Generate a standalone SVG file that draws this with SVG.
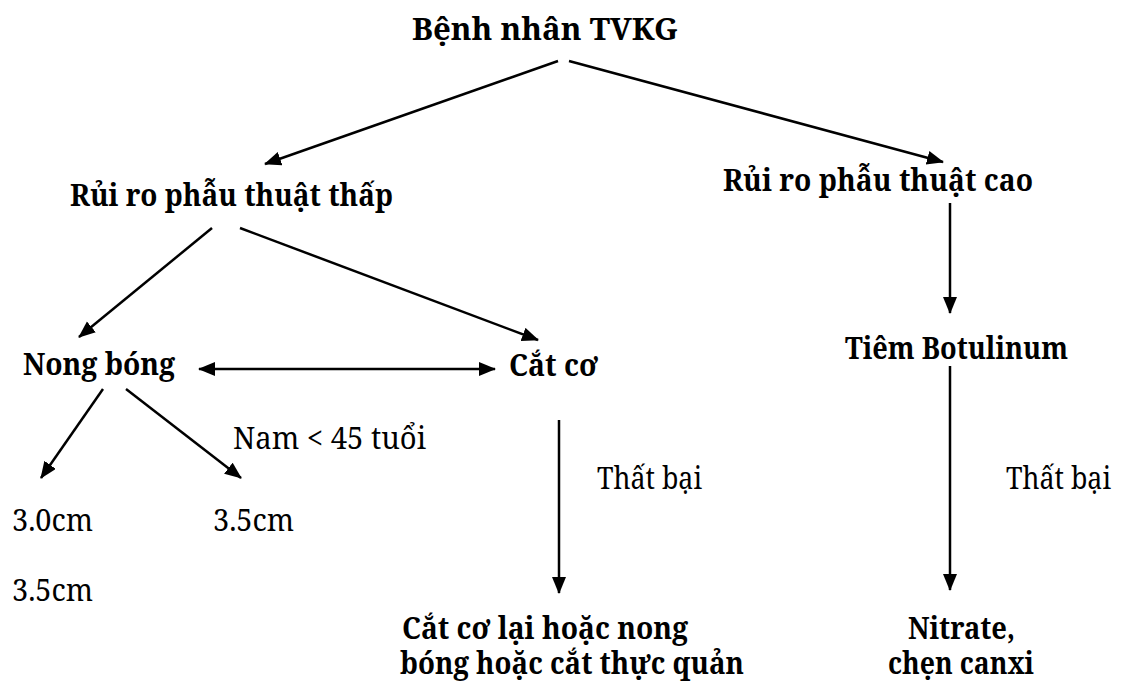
<svg xmlns="http://www.w3.org/2000/svg" width="1124" height="684" viewBox="0 0 1124 684">
<style>
text{font-family:"Noto Serif","DejaVu Serif","Liberation Serif",serif;font-size:31px;fill:#000}
.b{font-weight:bold}
.r{font-size:30px}
.c line{stroke:#000;stroke-width:2.5}
</style>
<defs>
<marker id="ah" markerUnits="userSpaceOnUse" markerWidth="20" markerHeight="16" refX="16" refY="7" orient="auto-start-reverse">
<path d="M0,0 L17,7 L0,14 z" fill="#000"/>
</marker>
</defs>
<rect width="1124" height="684" fill="#fff"/>
<g class="c" id="connectors">
<line x1="558" y1="61" x2="265" y2="164" marker-end="url(#ah)"/>
<line x1="569" y1="61" x2="943" y2="162" marker-end="url(#ah)"/>
<line x1="212" y1="228" x2="79" y2="337" marker-end="url(#ah)"/>
<line x1="240" y1="228" x2="538" y2="340" marker-end="url(#ah)"/>
<line x1="199" y1="369" x2="495" y2="369" marker-start="url(#ah)" marker-end="url(#ah)"/>
<line x1="950" y1="203" x2="950" y2="313" marker-end="url(#ah)"/>
<line x1="950" y1="366" x2="950" y2="590" marker-end="url(#ah)"/>
<line x1="559" y1="420" x2="559" y2="593" marker-end="url(#ah)"/>
<line x1="103" y1="389" x2="41" y2="478" marker-end="url(#ah)"/>
<line x1="126" y1="389" x2="241" y2="478" marker-end="url(#ah)"/>
</g>
<g id="n_root"><text class="b" x="412" y="40" textLength="266" lengthAdjust="spacingAndGlyphs">Bệnh nhân TVKG</text></g>
<g id="n_low"><text class="b" x="70" y="206" textLength="323" lengthAdjust="spacingAndGlyphs">Rủi ro phẫu thuật thấp</text></g>
<g id="n_high"><text class="b" x="723" y="191" textLength="310" lengthAdjust="spacingAndGlyphs">Rủi ro phẫu thuật cao</text></g>
<g id="n_nong"><text class="b" x="23" y="375" textLength="152" lengthAdjust="spacingAndGlyphs">Nong bóng</text></g>
<g id="n_catco"><text class="b" x="509" y="376" textLength="89" lengthAdjust="spacingAndGlyphs">Cắt cơ</text></g>
<g id="n_botu"><text class="b" x="845" y="359" textLength="223" lengthAdjust="spacingAndGlyphs">Tiêm Botulinum</text></g>
<g id="l_nam"><text class="r" x="233" y="449" textLength="193" lengthAdjust="spacingAndGlyphs">Nam &lt; 45 tuổi</text></g>
<g id="n_30"><text class="r" x="12" y="531" textLength="81" lengthAdjust="spacingAndGlyphs">3.0cm</text></g>
<g id="n_35a"><text class="r" x="213" y="531" textLength="81" lengthAdjust="spacingAndGlyphs">3.5cm</text></g>
<g id="n_35b"><text class="r" x="12" y="601" textLength="81" lengthAdjust="spacingAndGlyphs">3.5cm</text></g>
<g id="l_fail1"><text class="r" x="597" y="489" textLength="105" lengthAdjust="spacingAndGlyphs">Thất bại</text></g>
<g id="l_fail2"><text class="r" x="1006" y="489" textLength="105" lengthAdjust="spacingAndGlyphs">Thất bại</text></g>
<g id="n_redo"><text class="b"><tspan x="402" y="639" textLength="286" lengthAdjust="spacingAndGlyphs">Cắt cơ lại hoặc nong</tspan><tspan x="400" y="674" textLength="344" lengthAdjust="spacingAndGlyphs">bóng hoặc cắt thực quản</tspan></text></g>
<g id="n_nitrate"><text class="b"><tspan x="908" y="639" textLength="107" lengthAdjust="spacingAndGlyphs">Nitrate,</tspan><tspan x="888" y="674" textLength="146" lengthAdjust="spacingAndGlyphs">chẹn canxi</tspan></text></g>
</svg>
